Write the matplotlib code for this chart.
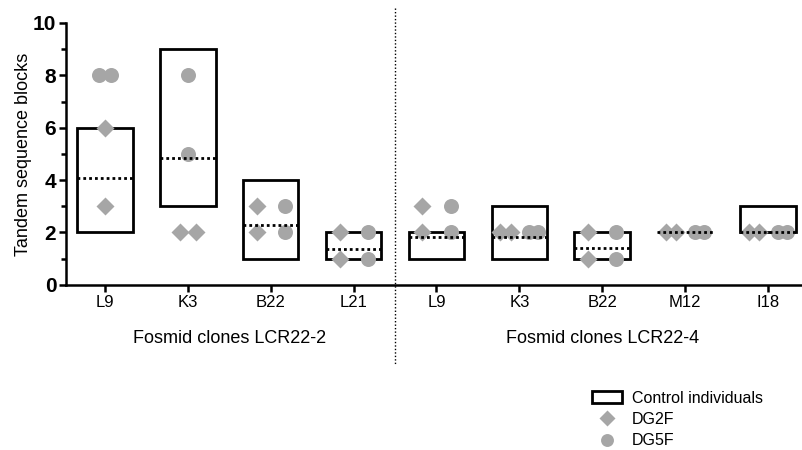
import numpy as np
import matplotlib.pyplot as plt
import matplotlib.transforms as mtransforms
from matplotlib.patches import Rectangle, Patch
from matplotlib.lines import Line2D

plt.rcParams['font.family'] = ['Liberation Sans', 'DejaVu Sans']

# Datos
clones = ["L9", "K3", "B22", "L21", "L9", "K3", "B22", "M12", "I18"]
grupos = ["Fosmid clones LCR22-2", "Fosmid clones LCR22-4"]
grupo_centro = [2.5, 7.0]

ctrl_min = [2, 3, 1, 1, 1, 1, 1, 2, 2]
ctrl_max = [6, 9, 4, 2, 2, 3, 2, 2, 3]
ctrl_media = [4.08, 4.85, 2.28, 1.37, 1.84, 1.83, 1.41, 2.0, 2.0]

dg2f = [[6, 3], [2, 2], [3, 2], [2, 1], [3, 2], [2, 2], [2, 1], [2, 2], [2, 2]]
dg5f = [[8, 8], [8, 5], [3, 2], [2, 1], [3, 2], [2, 2], [2, 1], [2, 2], [2, 2]]

GRIS = '#a6a6a6'
ancho_caja = 0.67
ms_diamante = 9.5
ms_circulo = 10.8


def repartir(vals, centro, paso):
    # valores repetidos se ponen lado a lado
    xs = []
    for i, v in enumerate(vals):
        iguales = [j for j, w in enumerate(vals) if w == v]
        n = len(iguales)
        k = iguales.index(i)
        xs.append(centro + (k - (n - 1) / 2) * paso)
    return xs


fig = plt.figure(figsize=(8.02, 4.5), dpi=100)
ax = fig.add_axes([0.0823, 0.367, 0.9177, 0.582])

for i, nombre in enumerate(clones):
    x0 = i + 1
    lo, hi, mu = ctrl_min[i], ctrl_max[i], ctrl_media[i]
    if hi > lo:
        ax.add_patch(Rectangle((x0 - ancho_caja / 2, lo), ancho_caja, hi - lo,
                               fill=False, ec='black', lw=2, zorder=2))

    compartido = set(dg2f[i]) & set(dg5f[i])
    if compartido:
        xd = repartir(dg2f[i], x0 - 0.17, 0.13)
        xc = repartir(dg5f[i], x0 + 0.17, 0.11)
    else:
        xd = repartir(dg2f[i], x0, 0.19)
        xc = repartir(dg5f[i], x0, 0.15)

    ax.plot(xd, dg2f[i], 'D', color=GRIS, ms=ms_diamante, mec='none', zorder=3)
    ax.plot(xc, dg5f[i], 'o', color=GRIS, ms=ms_circulo, mec='none', zorder=3)

    ax.plot([x0 - ancho_caja / 2, x0 + ancho_caja / 2], [mu, mu], color='black',
            lw=2, ls=(0, (1, 1.1)), dash_capstyle='butt', zorder=4)

ax.set_xlim(0.53, 9.41)
ax.set_ylim(0, 10)

ax.set_xticks(range(1, len(clones) + 1))
ax.set_xticklabels(clones)
ax.set_yticks(range(0, 11, 2))
ax.set_yticks(range(1, 10, 2), minor=True)
for lab in ax.get_yticklabels():
    lab.set_fontweight('bold')

ax.tick_params(axis='x', length=5, width=1.8, labelsize=12, pad=2)
ax.tick_params(axis='y', which='major', length=5, width=1.8, labelsize=15, pad=2)
ax.tick_params(axis='y', which='minor', length=3.5, width=1.8)

for s in ['top', 'right']:
    ax.spines[s].set_visible(False)
for s in ['left', 'bottom']:
    ax.spines[s].set_linewidth(1.8)

ax.set_ylabel('Tandem sequence blocks', fontsize=13)
ax.yaxis.set_label_coords(-0.046, 0.5)

trans = mtransforms.blended_transform_factory(ax.transData, ax.transAxes)
for g, xc in zip(grupos, grupo_centro):
    ax.text(xc, -0.205, g, transform=trans, ha='center', va='center', fontsize=13)

# linea separadora entre los dos grupos
ax.plot([4.5, 4.5], [1.057, -0.305], transform=trans, clip_on=False,
        color='black', lw=1, ls=(0, (1, 1.5)))

handles = [
    Patch(facecolor='white', edgecolor='black', lw=2),
    Line2D([], [], marker='D', color=GRIS, ls='none', ms=ms_diamante - 1, mec='none'),
    Line2D([], [], marker='o', color=GRIS, ls='none', ms=ms_circulo - 1.5, mec='none'),
]
fig.legend(handles, ['Control individuals', 'DG2F', 'DG5F'], loc='upper left',
           bbox_to_anchor=(0.738, 0.132), frameon=False, fontsize=11.5,
           handlelength=1.9, handleheight=0.7, labelspacing=0.4,
           handletextpad=0.6, borderpad=0, borderaxespad=0)

fig.savefig('out.png', dpi=100)
